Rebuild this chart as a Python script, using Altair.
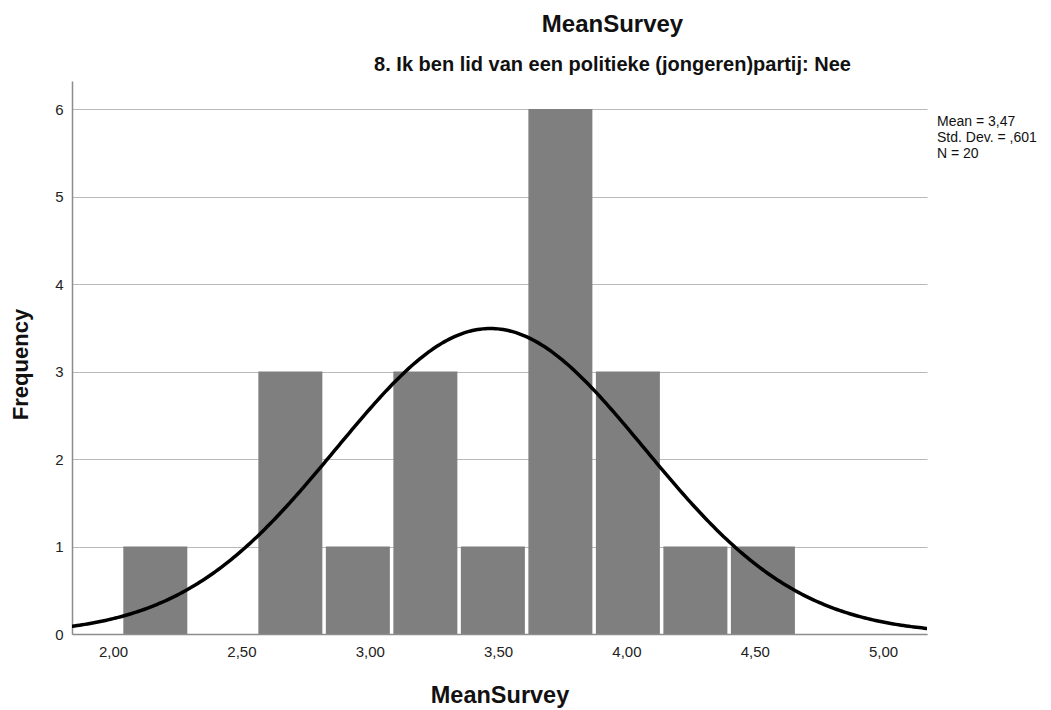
import altair as alt
import pandas as pd

# Histogram bins of MeanSurvey (lower edge, upper edge, count)
bin_lo = [2.040, 2.303, 2.566, 2.829, 3.092, 3.355, 3.618, 3.881, 4.144, 4.407]
bin_hi = [2.303, 2.566, 2.829, 3.092, 3.355, 3.618, 3.881, 4.144, 4.407, 4.670]
counts = [1, 0, 3, 1, 3, 1, 6, 3, 1, 1]

# Summary statistics shown beside the plot
mean_val = 3.47
sd_val = 0.601
n_val = 20
bin_width = 0.263
stat_lines = ["Mean = 3,47", "Std. Dev. = ,601", "N = 20"]

x_ticks = [2.0, 2.5, 3.0, 3.5, 4.0, 4.5, 5.0]
y_ticks = [0, 1, 2, 3, 4, 5, 6]
x_domain = [1.840, 5.171]
y_domain = [0, 6.32]

FONT = "Liberation Sans"

bins = pd.DataFrame({"lo": bin_lo, "hi": bin_hi, "count": counts})

x_scale = alt.Scale(domain=x_domain, nice=False, zero=False)
y_scale = alt.Scale(domain=y_domain, nice=False)

# bars leave a small white gap at their right edge
bars = alt.Chart(bins).mark_rect(color="#7f7f7f", x2Offset=-3.5).encode(
    x=alt.X(
        "lo:Q",
        scale=x_scale,
        title="MeanSurvey",
        axis=alt.Axis(
            values=x_ticks,
            labelExpr="replace(format(datum.value, '.2f'), '.', ',')",
            grid=False,
            ticks=False,
            domainColor="#8c8c8c",
            domainWidth=1.5,
            labelFont=FONT,
            labelFontSize=15,
            labelColor="#222222",
            labelPadding=10,
            titleFont=FONT,
            titleFontSize=23.5,
            titleFontWeight="bold",
            titleColor="#111111",
            titlePadding=24,
            zindex=1,
        ),
    ),
    x2="hi:Q",
    y=alt.Y(
        "count:Q",
        scale=y_scale,
        title="Frequency",
        axis=alt.Axis(
            values=y_ticks,
            format="d",
            grid=True,
            gridColor="#b9b9b9",
            gridWidth=1,
            ticks=False,
            domainColor="#8c8c8c",
            domainWidth=1.5,
            labelFont=FONT,
            labelFontSize=15,
            labelColor="#222222",
            labelPadding=9,
            titleFont=FONT,
            titleFontSize=22,
            titleFontWeight="bold",
            titleColor="#111111",
            titlePadding=22,
            titleY=283,
        ),
    ),
    y2=alt.datum(0),
)

# Normal curve scaled to the histogram: N * bin width * density
curve = alt.Chart(alt.sequence(start=1.80, stop=5.22, step=0.01, as_="v")).transform_calculate(
    f=f"{n_val} * {bin_width} * exp(-0.5 * pow((datum.v - {mean_val}) / {sd_val}, 2)) / ({sd_val} * sqrt(2 * PI))"
).mark_line(color="black", strokeWidth=3.5, clip=True).encode(
    x=alt.X("v:Q", scale=x_scale),
    y=alt.Y("f:Q", scale=y_scale),
)

stats = alt.Chart(pd.DataFrame({"k": [0]})).mark_text(
    align="left", baseline="top", font=FONT, fontSize=14, lineHeight=16, color="#111111"
).encode(
    x=alt.value(865),
    y=alt.value(34),
    text=alt.value(stat_lines),
)

chart = alt.layer(bars, curve, stats).properties(
    width=855,
    height=553,
    title=alt.TitleParams(
        text="MeanSurvey",
        subtitle="8. Ik ben lid van een politieke (jongeren)partij: Nee",
        anchor="middle",
        frame="group",
        dx=113,
        font=FONT,
        fontSize=24,
        fontWeight="bold",
        color="#111111",
        subtitleFont=FONT,
        subtitleFontSize=20,
        subtitleFontWeight="bold",
        subtitleColor="#111111",
        subtitlePadding=18,
        offset=6,
    ),
    autosize=alt.AutoSizeParams(type="none"),
    padding={"left": 72, "top": 81, "right": 124, "bottom": 76},
    background="white",
).configure_view(stroke=None)

chart.save("out.html", embed_options={"renderer": "svg", "actions": False})
